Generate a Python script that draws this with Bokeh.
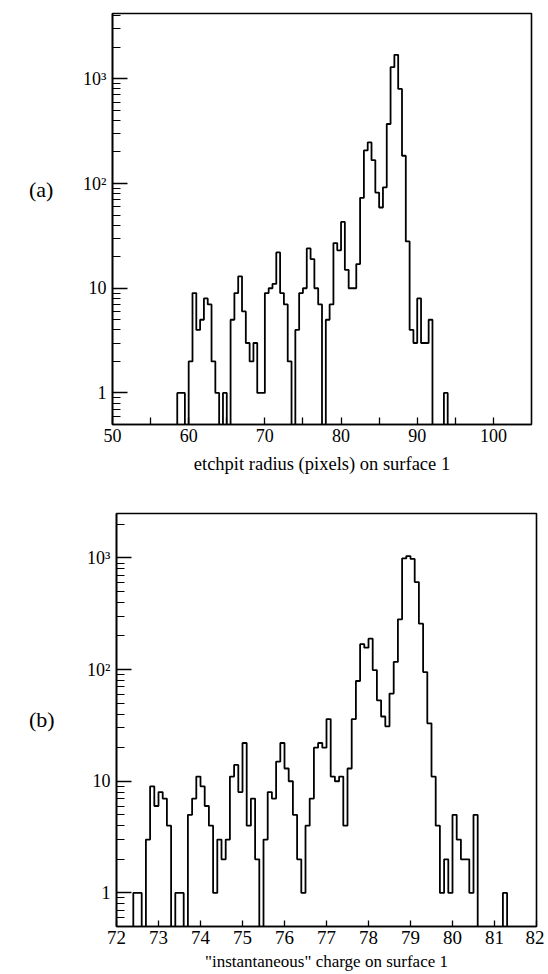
import numpy as np
from bokeh.plotting import figure
from bokeh.layouts import column, row
from bokeh.models import FixedTicker, Range1d, Div
from bokeh.embed import file_html
from bokeh.resources import INLINE

# ---------------- data ----------------
# panel (a): etchpit radius histogram, bins of 0.5 pixel starting at 58.5
a_bin_start = 58.5
a_bin_width = 0.5
a_counts = [1, 1, 0, 2, 9, 4, 5, 8, 7, 2,
            1, 0, 1, 0, 5, 9, 13, 6, 3, 2,
            3, 1, 1, 9, 10, 11, 22, 9, 7, 2,
            0, 4, 9, 10, 24, 19, 10, 7, 0, 5,
            7, 27, 23, 43, 15, 10, 10, 17, 73, 207,
            247, 167, 82, 59, 92, 370, 1290, 1694, 800, 184,
            28, 4, 3, 8, 3, 3, 5, 0, 0, 0,
            1]

# panel (b): "instantaneous" charge histogram, bins of 0.1 starting at 72.4
b_bin_start = 72.4
b_bin_width = 0.1
b_counts = [1, 1, 0, 3, 9, 6, 8, 7, 4, 0,
            1, 1, 0, 5, 7, 11, 9, 6, 4, 1,
            3, 2, 3, 11, 14, 8, 22, 4, 7, 2,
            0, 3, 8, 7, 15, 22, 13, 10, 5, 2,
            1, 4, 7, 20, 22, 20, 36, 11, 10, 11,
            4, 13, 36, 79, 169, 157, 189, 99, 53, 38,
            31, 61, 117, 282, 990, 1040, 980, 608, 258, 95,
            33, 11, 4, 1, 2, 1, 5, 3, 2, 2,
            1, 5, 0, 0, 0, 0, 0, 0, 1]

a_x_ticks = [50, 60, 70, 80, 90, 100]
a_x_minor = [55, 65, 75, 85, 95]
b_x_ticks = [72, 73, 74, 75, 76, 77, 78, 79, 80, 81, 82]
y_ticks = [1, 10, 100, 1000]
y_minor = [0.6, 0.7, 0.8, 0.9,
           2, 3, 4, 5, 6, 7, 8, 9,
           20, 30, 40, 50, 60, 70, 80, 90,
           200, 300, 400, 500, 600, 700, 800, 900,
           2000, 3000, 4000]
y_labels = {1: "1", 10: "10", 100: "10\u00b2", 1000: "10\u00b3"}

a_xlabel = "etchpit radius (pixels) on surface 1"
b_xlabel = "\"instantaneous\" charge on surface 1"
a_tag = "(a)"
b_tag = "(b)"

FONT = "'Liberation Serif', 'Times New Roman', 'DejaVu Serif', serif"
FLOOR = 0.05  # below the visible range: zero bins drop to the axis
DIV_W = 70


def step_path(start, width, counts):
    n = len(counts)
    edges = start + width * np.arange(n + 1)
    c = np.where(np.asarray(counts, dtype=float) > 0, counts, FLOOR)
    xs = [edges[0]]
    ys = [FLOOR]
    for i in range(n):
        xs += [edges[i], edges[i + 1]]
        ys += [c[i], c[i]]
    xs.append(edges[-1])
    ys.append(FLOOR)
    return xs, ys


def panel(xr, yr, width, height, bl, bt, bb, br, xticks, xminor, xlabel,
          xtick_len, tick_fs, lab_fs, tick_standoff, xlabel_standoff):
    p = figure(width=width, height=height, x_range=Range1d(*xr),
               y_range=Range1d(*yr), y_axis_type="log",
               output_backend="svg", toolbar_location=None,
               min_border_left=bl, min_border_top=bt,
               min_border_bottom=bb, min_border_right=br)
    p.background_fill_color = "white"
    p.border_fill_color = "white"
    p.outline_line_color = "black"
    p.outline_line_width = 1.6
    p.grid.visible = False

    xa = p.xaxis[0]
    xa.ticker = FixedTicker(ticks=xticks, minor_ticks=xminor)
    xa.major_tick_in = xtick_len
    xa.major_tick_out = 0
    xa.minor_tick_in = xtick_len
    xa.minor_tick_out = 0
    xa.major_tick_line_width = 1.3
    xa.minor_tick_line_width = 1.3
    xa.axis_line_width = 1.6
    xa.major_label_text_font = FONT
    xa.major_label_text_font_size = tick_fs
    xa.major_label_text_color = "black"
    xa.major_label_standoff = tick_standoff
    xa.axis_label = xlabel
    xa.axis_label_text_font = FONT
    xa.axis_label_text_font_size = lab_fs
    xa.axis_label_text_font_style = "normal"
    xa.axis_label_text_color = "black"
    xa.axis_label_standoff = xlabel_standoff

    ya = p.yaxis[0]
    ya.ticker = FixedTicker(ticks=y_ticks, minor_ticks=y_minor)
    ya.major_label_overrides = y_labels
    ya.major_tick_in = 15
    ya.major_tick_out = 0
    ya.minor_tick_in = 8
    ya.minor_tick_out = 0
    ya.major_tick_line_width = 1.3
    ya.minor_tick_line_width = 1.2
    ya.axis_line_width = 1.6
    ya.major_label_text_font = FONT
    ya.major_label_text_font_size = "18px"
    ya.major_label_text_color = "black"
    ya.major_label_standoff = 6
    return p


def tag_div(text, height, pad_top, pad_left):
    html = ('<div style="padding:%dpx 0 0 %dpx;font-family:%s;'
            'font-size:22px;line-height:24px;color:black;">%s</div>'
            % (pad_top, pad_left, FONT.replace("'", "&#39;"), text))
    return Div(text=html, width=DIV_W, height=height, margin=0)


# panel (a): canvas 0..539 x 0..495, frame 112..531 x 13..424
pa = panel((50, 105), (0.5, 4200), 539 - DIV_W, 495, 112 - DIV_W, 13, 71, 8,
           a_x_ticks, a_x_minor, a_xlabel, 7, "18px", "18.5px", 4, 9)
xs, ys = step_path(a_bin_start, a_bin_width, a_counts)
pa.line(xs, ys, line_color="black", line_width=1.8)

# panel (b): canvas 0..544 x 495..973, frame 116..536 x 513..926
pb = panel((72, 82), (0.5, 2500), 544 - DIV_W, 478, 116 - DIV_W, 18, 47, 8,
           b_x_ticks, [], b_xlabel, 6, "19px", "17px", 4, 5)
xs, ys = step_path(b_bin_start, b_bin_width, b_counts)
pb.line(xs, ys, line_color="black", line_width=1.8)

layout = column(row(tag_div(a_tag, 495, 178, 29), pa, spacing=0),
                row(tag_div(b_tag, 478, 213, 29), pb, spacing=0),
                spacing=0)
open("out.html", "w").write(file_html(layout, INLINE))
